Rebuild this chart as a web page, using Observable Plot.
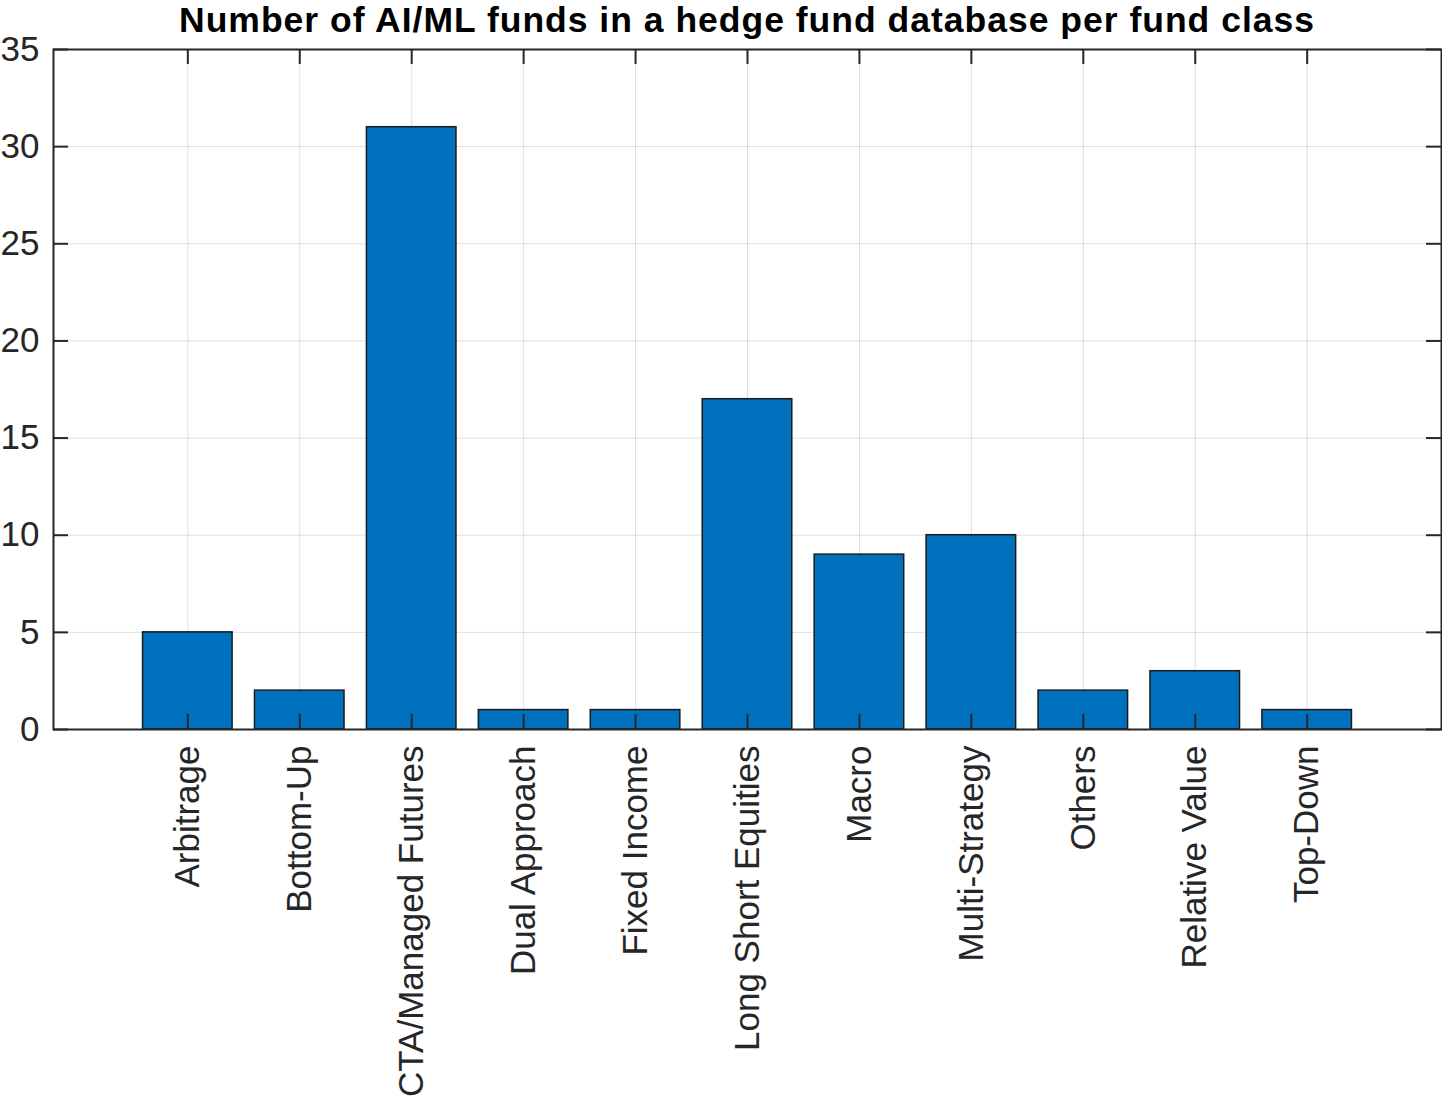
<!DOCTYPE html>
<html>
<head>
<meta charset="utf-8">
<script src="https://cdn.jsdelivr.net/npm/d3@7"></script>
<script src="https://cdn.jsdelivr.net/npm/@observablehq/plot@0.6"></script>
<style>
  html, body { margin: 0; padding: 0; background: #fff; }
  #wrap { position: relative; width: 1442px; height: 1104px; }
  #title { position: absolute; left: 53px; width: 1388px; top: 0px; text-align: center;
    font-family: "Liberation Sans", Arial, sans-serif; font-weight: bold; font-size: 35.5px;
    letter-spacing: 1px; line-height: 40px; color: #000; z-index: 2; white-space: nowrap; }
</style>
</head>
<body>
<div id="wrap">
  <div id="title">Number of AI/ML funds in a hedge fund database per fund class</div>
  <div id="chart"></div>
</div>
<script>
const categories = ["Arbitrage", "Bottom-Up", "CTA/Managed Futures", "Dual Approach", "Fixed Income",
  "Long Short Equities", "Macro", "Multi-Strategy", "Others", "Relative Value", "Top-Down"];
const counts = [5, 2, 31, 1, 1, 17, 9, 10, 2, 3, 1];
const yTicks = [0, 5, 10, 15, 20, 25, 30, 35];

const data = categories.map((c, i) => ({category: c, count: counts[i]}));

const W = 1442, H = 1104;
const mL = 53, mR = 1, mT = 49, mB = 375;
const plotW = W - mL - mR, plotH = H - mT - mB;
const tickLen = 15;
const axisColor = "#262626";

const chart = Plot.plot({
  width: W,
  height: H,
  marginLeft: mL,
  marginRight: mR,
  marginTop: mT,
  marginBottom: mB,
  style: {fontFamily: "'Liberation Sans', Arial, sans-serif", fontSize: "35px", color: axisColor, background: "transparent"},
  x: {domain: categories, paddingInner: 0.2, paddingOuter: 0.8, round: false, label: null},
  y: {domain: [0, 35], ticks: yTicks, label: null},
  marks: [
    // grid lines
    Plot.ruleY(yTicks, {y: d => d, stroke: "#000", strokeOpacity: 0.13, strokeWidth: 1}),
    Plot.ruleX(categories, {x: d => d, stroke: "#000", strokeOpacity: 0.13, strokeWidth: 1}),
    // bars
    Plot.barY(data, {x: "category", y: "count", fill: "#0072BD", stroke: "#1a1a1a", strokeWidth: 1.5}),
    // inward ticks
    Plot.ruleX(categories, {x: d => d, stroke: axisColor, strokeWidth: 2, insetTop: plotH - tickLen}),
    Plot.ruleX(categories, {x: d => d, stroke: axisColor, strokeWidth: 2, insetBottom: plotH - tickLen}),
    Plot.ruleY(yTicks, {y: d => d, stroke: axisColor, strokeWidth: 2, insetRight: plotW - tickLen}),
    Plot.ruleY(yTicks, {y: d => d, stroke: axisColor, strokeWidth: 2, insetLeft: plotW - tickLen}),
    // axes labels
    Plot.axisX({anchor: "bottom", tickSize: 0, tickPadding: 16, tickRotate: -90, label: null, fill: axisColor}),
    Plot.axisY({anchor: "left", ticks: yTicks, tickSize: 0, tickPadding: 14, label: null, fill: axisColor}),
    Plot.frame({stroke: axisColor, strokeWidth: 2})
  ]
});
document.getElementById("chart").appendChild(chart);
</script>
</body>
</html>
